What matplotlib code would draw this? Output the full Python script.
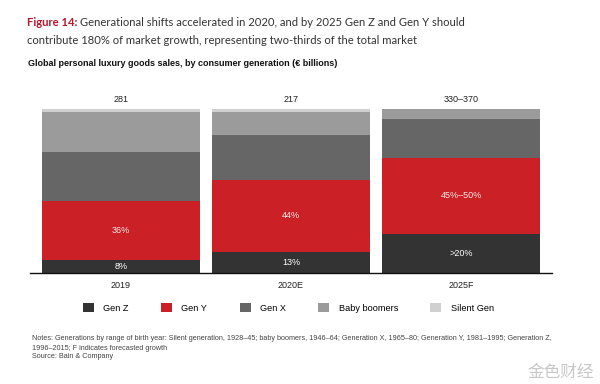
import matplotlib
matplotlib.use('Agg')
import matplotlib.pyplot as plt
from matplotlib.patches import Patch

# data (share of sales, %)
years = ['2019', '2020E', '2025F']
totals = ['281', '217', '330–370']
generations = ['Gen Z', 'Gen Y', 'Gen X', 'Baby boomers', 'Silent Gen']
gen_z = [8, 13, 24]
gen_y = [36, 44, 46]
gen_x = [30, 27, 24]
boomers = [24, 14, 6]
silent = [2, 2, 0]
gen_z_labels = ['8%', '13%', '>20%']
gen_y_labels = ['36%', '44%', '45%–50%']

colors = ['#333333', '#cc2027', '#666666', '#9b9b9b', '#d0d0d0']
series = [gen_z, gen_y, gen_x, boomers, silent]

fig = plt.figure(figsize=(6, 3.84), dpi=100)
ax = fig.add_axes([30 / 600, 1 - 273 / 384, 522 / 600, 164 / 384])

x = range(len(years))
bottom = [0, 0, 0]
for vals, col in zip(series, colors):
    ax.bar(x, vals, bottom=bottom, width=0.93, color=col, linewidth=0)
    bottom = [a + v for a, v in zip(bottom, vals)]

# labels inside Gen Z and Gen Y segments, totals on top
for i in x:
    ax.text(i, gen_z[i] / 2, gen_z_labels[i], ha='center', va='center',
            color='white', fontsize=6.5, family='Liberation Sans')
    ax.text(i, gen_z[i] + gen_y[i] / 2, gen_y_labels[i], ha='center', va='center',
            color='#f4e8e8', fontsize=6.5, family='Liberation Sans')
    ax.text(i, 105.5, totals[i], ha='center', va='center', color='#222222',
            fontsize=6.5, family='Liberation Sans')

ax.set_xlim(-0.535, 2.535)
ax.set_ylim(0, 100)
ax.set_xticks(list(x))
ax.set_xticklabels(years, fontsize=6.5, family='Liberation Sans', color='#222222')
ax.tick_params(axis='x', length=0, pad=6)
ax.set_yticks([])
for s in ['top', 'right', 'left']:
    ax.spines[s].set_visible(False)
ax.spines['bottom'].set_color('#111111')
ax.spines['bottom'].set_linewidth(1.0)

handles = [Patch(facecolor=c, edgecolor='none') for c in colors]
fig.legend(handles, generations, loc='center left', bbox_to_anchor=(83 / 600, 1 - 308 / 384),
           ncol=5, frameon=False, borderpad=0, borderaxespad=0, handlelength=1.2,
           handleheight=1.1, handletextpad=1.0, columnspacing=3.55,
           prop={'family': 'Liberation Sans', 'size': 6.6})

# title
t1 = fig.text(27 / 600, 1 - 22 / 384, 'Figure 14:', color='#b3182c', fontsize=8.1,
              family='Lato', weight='bold', va='center')
fig.canvas.draw()
bb = t1.get_window_extent()
fig.text(bb.x1 / 600 + 3 / 600, 1 - 22 / 384,
         'Generational shifts accelerated in 2020, and by 2025 Gen Z and Gen Y should',
         color='#333333', fontsize=8.1, family='Lato', va='center')
fig.text(27 / 600, 1 - 40 / 384,
         'contribute 180% of market growth, representing two-thirds of the total market',
         color='#333333', fontsize=8.1, family='Lato', va='center')
fig.text(28 / 600, 1 - 63 / 384,
         'Global personal luxury goods sales, by consumer generation (€ billions)',
         color='#111111', fontsize=6.5, family='Liberation Sans', weight='bold', va='center')

# notes
fig.text(32 / 600, 1 - 338 / 384,
         'Notes: Generations by range of birth year: Silent generation, 1928–45; baby boomers, 1946–64; '
         'Generation X, 1965–80; Generation Y, 1981–1995; Generation Z,',
         color='#444444', fontsize=5.2, family='Liberation Sans', va='center')
fig.text(32 / 600, 1 - 348 / 384, '1996–2015; F indicates forecasted growth',
         color='#444444', fontsize=5.2, family='Liberation Sans', va='center')
fig.text(32 / 600, 1 - 357 / 384, 'Source: Bain & Company',
         color='#444444', fontsize=5.2, family='Liberation Sans', va='center')

# watermark
fig.text(594 / 600, 1 - 372 / 384, '金色财经', color='#c8c8c8', fontsize=12,
         family='Noto Sans CJK SC', va='center', ha='right')

fig.savefig('out.png', dpi=100)
